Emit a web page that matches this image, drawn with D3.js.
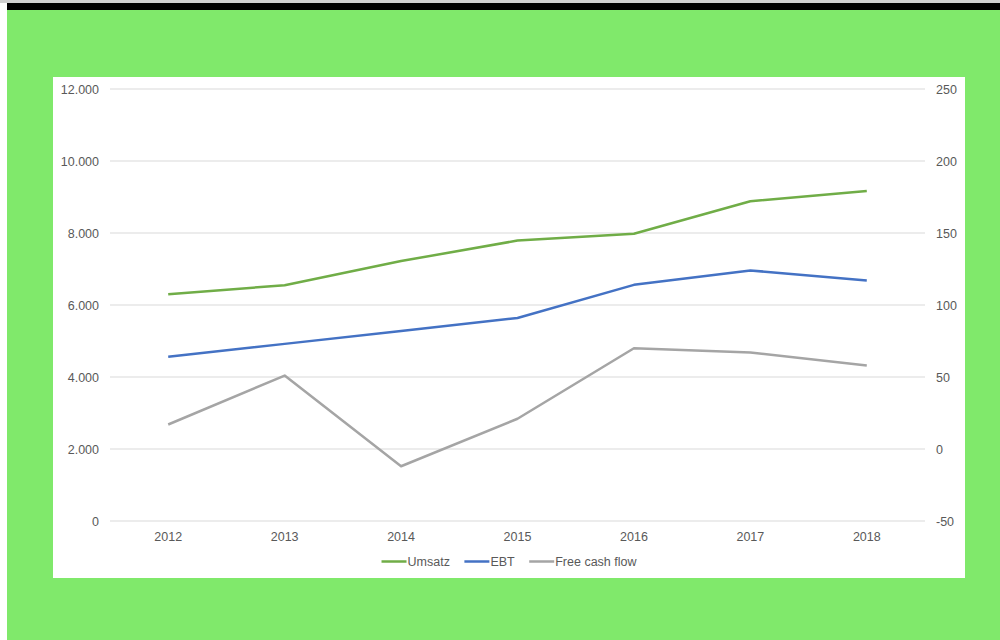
<!DOCTYPE html>
<html>
<head>
<meta charset="utf-8">
<script src="https://cdn.jsdelivr.net/npm/d3@7"></script>
<style>
  body { margin: 0; background: #fff; }
  svg text { font-family: "Liberation Sans", Arial, sans-serif; }
</style>
</head>
<body>
<script>
var years = ["2012", "2013", "2014", "2015", "2016", "2017", "2018"];
var umsatz = [6300, 6550, 7220, 7790, 7980, 8880, 9170];
var ebt = [64, 73, 82, 91, 114, 124, 117];
var fcf = [17, 51, -12, 21, 70, 67, 58];
var leftTicks = [0, 2000, 4000, 6000, 8000, 10000, 12000];
var rightTicks = [-50, 0, 50, 100, 150, 200, 250];
var seriesNames = ["Umsatz", "EBT", "Free cash flow"];
var seriesColors = ["#70ad47", "#4472c4", "#a5a5a5"];

var w = 1000, h = 640;
var de = d3.formatLocale({ decimal: ",", thousands: ".", grouping: [3], currency: ["", " €"], minus: "-" });

var svg = d3.select("body").append("svg")
    .attr("width", w)
    .attr("height", h);

// frame: thin gray top, black bar, green backdrop, white chart area
svg.append("rect").attr("x", 0).attr("y", 0).attr("width", w).attr("height", 3).attr("fill", "#d0d0d0");
svg.append("rect").attr("x", 7).attr("y", 3).attr("width", w - 7).attr("height", 7).attr("fill", "#000");
svg.append("rect").attr("x", 7).attr("y", 10).attr("width", w - 7).attr("height", h - 10).attr("fill", "#80e96b");
svg.append("rect").attr("x", 53).attr("y", 77).attr("width", 912).attr("height", 501).attr("fill", "#fff");

var xScale = d3.scaleBand().domain(years).range([110, 925]).padding(0);
var yLeft = d3.scaleLinear().domain([0, 12000]).range([521, 89]);
var yRight = d3.scaleLinear().domain([-50, 250]).range([521, 89]);

// gridlines
svg.append("g").selectAll("line")
    .data(leftTicks)
    .enter()
    .append("line")
    .attr("x1", 110).attr("x2", 925)
    .attr("y1", function (d) { return yLeft(d); })
    .attr("y2", function (d) { return yLeft(d); })
    .attr("stroke", "#d9d9d9")
    .attr("stroke-width", 1);

function styleAxis(g) {
    g.select(".domain").remove();
    g.selectAll("line").remove();
    g.selectAll("text").attr("fill", "#595959").style("font-size", "12.5px");
}

svg.append("g").attr("transform", "translate(110,0)")
    .call(d3.axisLeft(yLeft).tickValues(leftTicks).tickSize(0).tickPadding(11).tickFormat(de.format(",")))
    .call(styleAxis);

svg.append("g").attr("transform", "translate(925,0)")
    .call(d3.axisRight(yRight).tickValues(rightTicks).tickSize(0).tickPadding(11).tickFormat(de.format(",")))
    .call(styleAxis);

svg.append("g").attr("transform", "translate(0,521)")
    .call(d3.axisBottom(xScale).tickSize(0).tickPadding(11))
    .call(styleAxis);

// lines
var cx = function (d, i) { return xScale(years[i]) + xScale.bandwidth() / 2; };
var lineL = d3.line().x(cx).y(function (d) { return yLeft(d); });
var lineR = d3.line().x(cx).y(function (d) { return yRight(d); });

svg.append("path").attr("d", lineL(umsatz)).attr("fill", "none")
    .attr("stroke", seriesColors[0]).attr("stroke-width", 2.5).attr("stroke-linejoin", "round");
svg.append("path").attr("d", lineR(ebt)).attr("fill", "none")
    .attr("stroke", seriesColors[1]).attr("stroke-width", 2.5).attr("stroke-linejoin", "round");
svg.append("path").attr("d", lineR(fcf)).attr("fill", "none")
    .attr("stroke", seriesColors[2]).attr("stroke-width", 2.5).attr("stroke-linejoin", "round");

// legend
var legend = svg.append("g");
var items = legend.selectAll("g")
    .data(seriesNames)
    .enter()
    .append("g");
items.append("line")
    .attr("x1", 0).attr("x2", 25)
    .attr("y1", 0).attr("y2", 0)
    .attr("stroke", function (d, i) { return seriesColors[i]; })
    .attr("stroke-width", 2.5);
items.append("text")
    .attr("x", 26)
    .attr("dy", "0.35em")
    .attr("fill", "#595959")
    .style("font-size", "12.5px")
    .text(function (d) { return d; });

var offs = [], pos = 0;
items.each(function () {
    offs.push(pos);
    pos += 26 + d3.select(this).select("text").node().getComputedTextLength() + 14.5;
});
var total = pos - 14.5;
var startX = 509 - total / 2;
items.attr("transform", function (d, i) { return "translate(" + (startX + offs[i]) + ",561.5)"; });
</script>
</body>
</html>
